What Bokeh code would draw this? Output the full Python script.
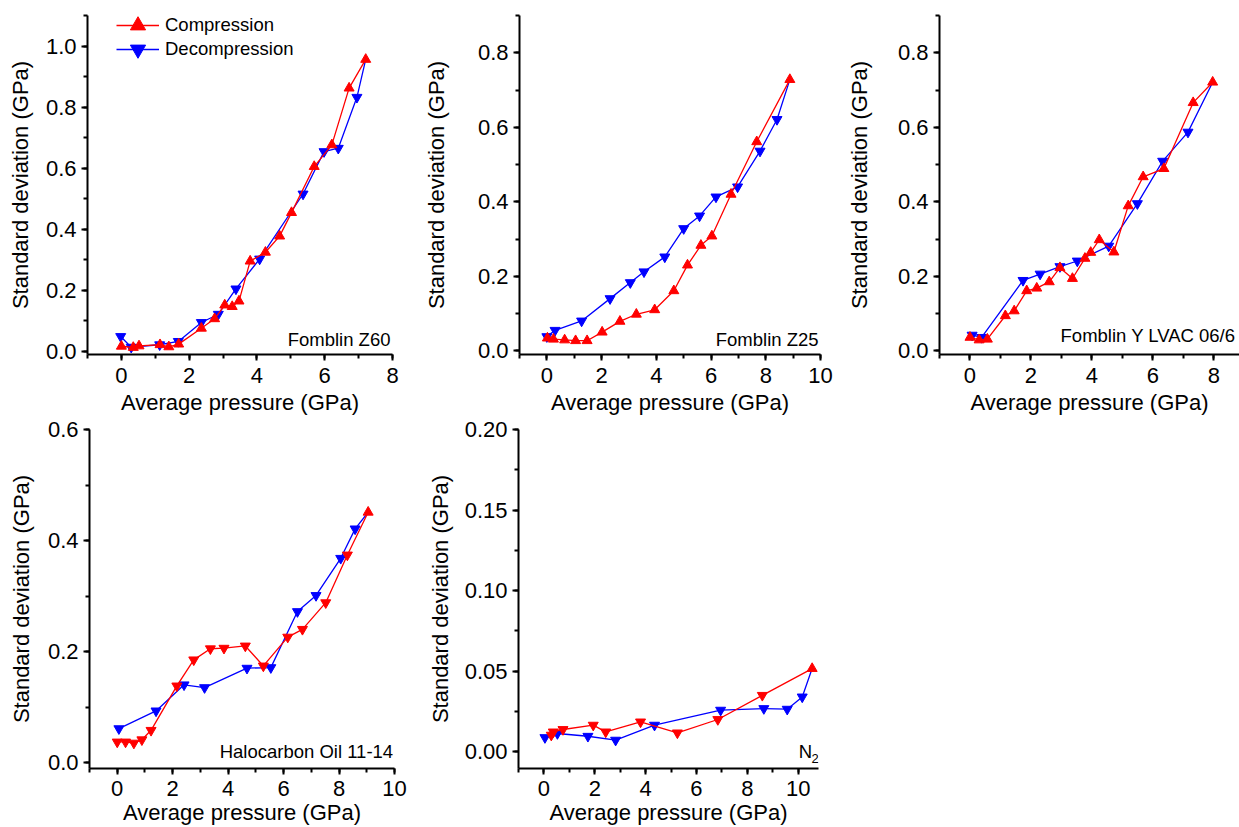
from bokeh.plotting import figure
from bokeh.layouts import column, row
from bokeh.models import Range1d, SingleIntervalTicker, PrintfTickFormatter, Label, Legend, LegendItem
from bokeh.embed import file_html
from bokeh.resources import INLINE

FONT = "Liberation Sans"
RED = "#ff0000"
BLUE = "#0000ff"
XLABEL = "Average pressure (GPa)"
YLABEL = "Standard deviation (GPa)"

# ---------------- data ----------------
# Fomblin Z60
z60_comp_x = [0.0, 0.35, 0.52, 1.14, 1.40, 1.69, 2.36, 2.75, 3.05, 3.27, 3.47, 3.80, 4.25, 4.67, 5.02, 5.69, 6.21, 6.72, 7.21]
z60_comp_y = [0.016, 0.012, 0.017, 0.021, 0.014, 0.023, 0.075, 0.106, 0.151, 0.146, 0.164, 0.295, 0.324, 0.377, 0.454, 0.605, 0.676, 0.862, 0.956]
z60_dec_x = [-0.02, 0.29, 1.13, 1.68, 2.36, 2.86, 3.38, 4.08, 5.36, 5.98, 6.40, 6.95, 7.21]
z60_dec_y = [0.048, 0.013, 0.021, 0.032, 0.094, 0.121, 0.204, 0.302, 0.515, 0.654, 0.665, 0.832, 0.956]

# Fomblin Z25
z25_comp_x = [0.02, 0.24, 0.65, 1.05, 1.47, 2.02, 2.67, 3.27, 3.94, 4.64, 5.14, 5.63, 6.03, 6.73, 7.67, 8.88]
z25_comp_y = [0.034, 0.031, 0.029, 0.027, 0.027, 0.050, 0.079, 0.098, 0.110, 0.161, 0.230, 0.283, 0.308, 0.420, 0.561, 0.728]
z25_dec_x = [0.0, 0.30, 1.27, 2.31, 3.05, 3.55, 4.31, 5.00, 5.58, 6.18, 6.97, 7.79, 8.41, 8.88]
z25_dec_y = [0.038, 0.055, 0.080, 0.140, 0.183, 0.212, 0.252, 0.328, 0.362, 0.413, 0.440, 0.536, 0.621, 0.728]

# Fomblin Y LVAC 06/6
ylv_comp_x = [0.0, 0.30, 0.57, 1.16, 1.45, 1.86, 2.19, 2.60, 2.95, 3.36, 3.77, 3.96, 4.24, 4.72, 5.19, 5.68, 6.36, 7.32, 7.96]
ylv_comp_y = [0.036, 0.029, 0.031, 0.094, 0.107, 0.161, 0.168, 0.185, 0.223, 0.194, 0.248, 0.264, 0.298, 0.265, 0.389, 0.467, 0.489, 0.666, 0.721]
ylv_dec_x = [0.07, 0.38, 1.74, 2.30, 2.95, 3.52, 4.55, 5.49, 6.32, 7.15, 7.96]
ylv_dec_y = [0.042, 0.036, 0.189, 0.206, 0.226, 0.241, 0.281, 0.395, 0.509, 0.587, 0.721]

# Halocarbon Oil 11-14
hal_comp_x = [0.0, 0.30, 0.60, 0.89, 1.22, 2.15, 2.76, 3.36, 3.85, 4.62, 5.27, 6.15, 6.68, 7.52, 8.30, 9.05]
hal_comp_y = [0.037, 0.037, 0.035, 0.041, 0.058, 0.138, 0.185, 0.205, 0.206, 0.210, 0.174, 0.226, 0.240, 0.288, 0.374, 0.451]
hal_dec_x = [0.06, 1.40, 2.41, 3.15, 4.68, 5.54, 6.50, 7.17, 8.06, 8.58, 9.05]
hal_dec_y = [0.061, 0.093, 0.140, 0.135, 0.170, 0.171, 0.272, 0.301, 0.368, 0.421, 0.451]

# N2
n2_comp_x = [0.29, 0.37, 0.75, 1.94, 2.43, 3.80, 5.25, 6.84, 8.59, 10.55]
n2_comp_y = [0.0104, 0.0124, 0.0139, 0.0166, 0.0124, 0.0186, 0.0118, 0.0201, 0.0351, 0.0517]
n2_dec_x = [0.04, 0.53, 1.73, 2.82, 4.35, 6.95, 8.65, 9.57, 10.16, 10.55]
n2_dec_y = [0.0089, 0.0114, 0.0097, 0.0073, 0.0166, 0.0259, 0.0269, 0.0265, 0.0341, 0.0517]

MSIZE = 10


def make_panel(width, height, xr, yr, bl, br, bt, bb, y_int, y_fmt, ylab_standoff,
               xlabel_standoff=7, xtitle_standoff=4):
    p = figure(width=width, height=height, x_range=Range1d(*xr), y_range=Range1d(*yr),
               output_backend="svg", toolbar_location=None,
               min_border_left=bl, min_border_right=br, min_border_top=bt, min_border_bottom=bb)
    p.outline_line_color = None
    p.background_fill_color = "white"
    p.border_fill_color = "white"
    p.xgrid.visible = False
    p.ygrid.visible = False
    p.xaxis.ticker = SingleIntervalTicker(interval=2, num_minor_ticks=2)
    p.yaxis.ticker = SingleIntervalTicker(interval=y_int, num_minor_ticks=2)
    p.yaxis.formatter = PrintfTickFormatter(format=y_fmt)
    p.xaxis.axis_label = XLABEL
    p.yaxis.axis_label = YLABEL
    for ax in (p.xaxis[0], p.yaxis[0]):
        ax.axis_line_width = 2
        ax.axis_line_color = "black"
        ax.major_tick_line_width = 2
        ax.minor_tick_line_width = 2
        ax.major_tick_line_color = "black"
        ax.minor_tick_line_color = "black"
        ax.major_tick_in = 0
        ax.minor_tick_in = 0
        ax.major_tick_out = 6
        ax.minor_tick_out = 4
        ax.major_label_text_font = FONT
        ax.major_label_text_font_size = "22px"
        ax.major_label_text_color = "black"
        ax.axis_label_text_font = FONT
        ax.axis_label_text_font_size = "22px"
        ax.axis_label_text_font_style = "normal"
        ax.axis_label_text_color = "black"
    p.xaxis[0].major_label_standoff = xlabel_standoff
    p.xaxis[0].axis_label_standoff = xtitle_standoff
    p.yaxis[0].major_label_standoff = 5
    p.yaxis[0].axis_label_standoff = ylab_standoff
    return p


def add_series(p, cx, cy, dx, dy, red_down=False):
    bl = p.line(dx, dy, line_color=BLUE, line_width=1.3)
    bs = p.scatter(dx[:-1], dy[:-1], marker="inverted_triangle", size=MSIZE, fill_color=BLUE, line_color=BLUE)
    rl = p.line(cx, cy, line_color=RED, line_width=1.3)
    if red_down:
        p.scatter(cx[:-1], cy[:-1], marker="inverted_triangle", size=MSIZE, fill_color=RED, line_color=RED)
        rs = p.scatter(cx[-1:], cy[-1:], marker="triangle", size=MSIZE, fill_color=RED, line_color=RED)
    else:
        rs = p.scatter(cx, cy, marker="triangle", size=MSIZE, fill_color=RED, line_color=RED)
    return (rl, rs), (bl, bs)


def add_note(p, x, y, text, align="right", size="18.5px"):
    p.add_layout(Label(x=x, y=y, text=text, text_font=FONT, text_font_size=size,
                       text_align=align, text_baseline="alphabetic", text_color="black"))


def add_legend_entry(p, label, renderers, loc):
    p.add_layout(Legend(items=[LegendItem(label=label, renderers=list(renderers))],
                        location=loc, padding=0, margin=0, spacing=0,
                        glyph_width=43, glyph_height=38, label_height=20, label_standoff=6,
                        label_text_font=FONT, label_text_font_size="18.5px", label_text_color="black",
                        background_fill_alpha=0, border_line_color=None))


# top row (frames span y 15..354)
p1 = make_panel(420, 417, (-1, 8), (-0.011, 1.1), 87, 28, 15, 63, 0.2, "%.1f", 10)
red, blue = add_series(p1, z60_comp_x, z60_comp_y, z60_dec_x, z60_dec_y)
add_note(p1, 7.94, 0.037, "Fomblin Z60")
add_legend_entry(p1, "Compression", red, (29, 310))
add_legend_entry(p1, "Decompression", blue, (29, 286))

p2 = make_panel(423, 417, (-1, 10), (-0.01, 0.9), 96, 23, 15, 63, 0.2, "%.1f", 26)
add_series(p2, z25_comp_x, z25_comp_y, z25_dec_x, z25_dec_y)
add_note(p2, 9.93, 0.029, "Fomblin Z25")

p3 = make_panel(396, 417, (-1, 8.84), (-0.01, 0.9), 96, 0, 15, 63, 0.2, "%.1f", 23)
add_series(p3, ylv_comp_x, ylv_comp_y, ylv_dec_x, ylv_dec_y)
add_note(p3, 2.97, 0.040, "Fomblin Y LVAC 06/6", align="left")

# bottom row (frames span y ~429..768)
p4 = make_panel(418, 410, (-1, 10), (-0.0108, 0.6001), 89, 24, 12, 59, 0.2, "%.1f", 11,
                xlabel_standoff=6, xtitle_standoff=1)
add_series(p4, hal_comp_x, hal_comp_y, hal_dec_x, hal_dec_y, red_down=True)
add_note(p4, 9.95, 0.019, "Halocarbon Oil 11-14")

p5 = make_panel(412, 410, (-1, 10.8), (-0.0103, 0.2), 100, 12, 12, 59, 0.05, "%.2f", 9,
                xlabel_standoff=6, xtitle_standoff=1)
add_series(p5, n2_comp_x, n2_comp_y, n2_dec_x, n2_dec_y, red_down=True)
add_note(p5, 10.02, 0.0, "N", align="left")
add_note(p5, 10.52, -0.0039, "2", align="left", size="13px")

layout = column(row(p1, p2, p3), row(p4, p5))

open("out.html", "w").write(file_html(layout, INLINE))
